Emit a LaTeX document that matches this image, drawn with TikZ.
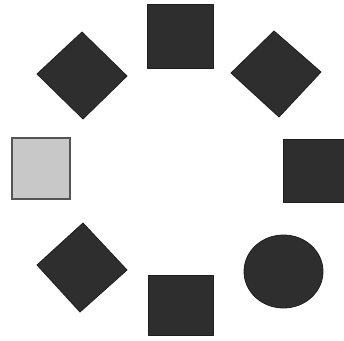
\documentclass[tikz,border=0pt]{standalone}
\definecolor{darkfill}{RGB}{46,46,46}
\definecolor{darkedge}{RGB}{30,30,30}
\definecolor{lightfill}{RGB}{200,200,200}
\definecolor{lightedge}{RGB}{85,85,85}
\tikzset{
  darkshape/.style={fill=darkfill, draw=darkedge, line width=0.8pt, line join=round},
  lightshape/.style={fill=lightfill, draw=lightedge, line width=1.2pt},
}
\begin{document}
\begin{tikzpicture}[x=1pt, y=-1pt]
\useasboundingbox (0,0) rectangle (344,340);
% top square
\draw[darkshape] (147,4) rectangle (213,68);
% top-left diamond
\draw[darkshape] (37,74) -- (82,32) -- (127,76) -- (83,119) -- cycle;
% top-right diamond
\draw[darkshape] (231,73) -- (274,31) -- (321,72) -- (279,117) -- cycle;
% left light square
\draw[lightshape] (12,138) rectangle (70,199);
% right square
\draw[darkshape] (283,139) rectangle (350,202);
% bottom-left diamond
\draw[darkshape] (37,265) -- (83,223) -- (127,270) -- (80,312) -- cycle;
% bottom square
\draw[darkshape] (148,275) rectangle (213,335);
% bottom-right circle
\draw[darkshape] (283.5,271.5) ellipse [x radius=39.5, y radius=36.5];
\end{tikzpicture}
\end{document}
